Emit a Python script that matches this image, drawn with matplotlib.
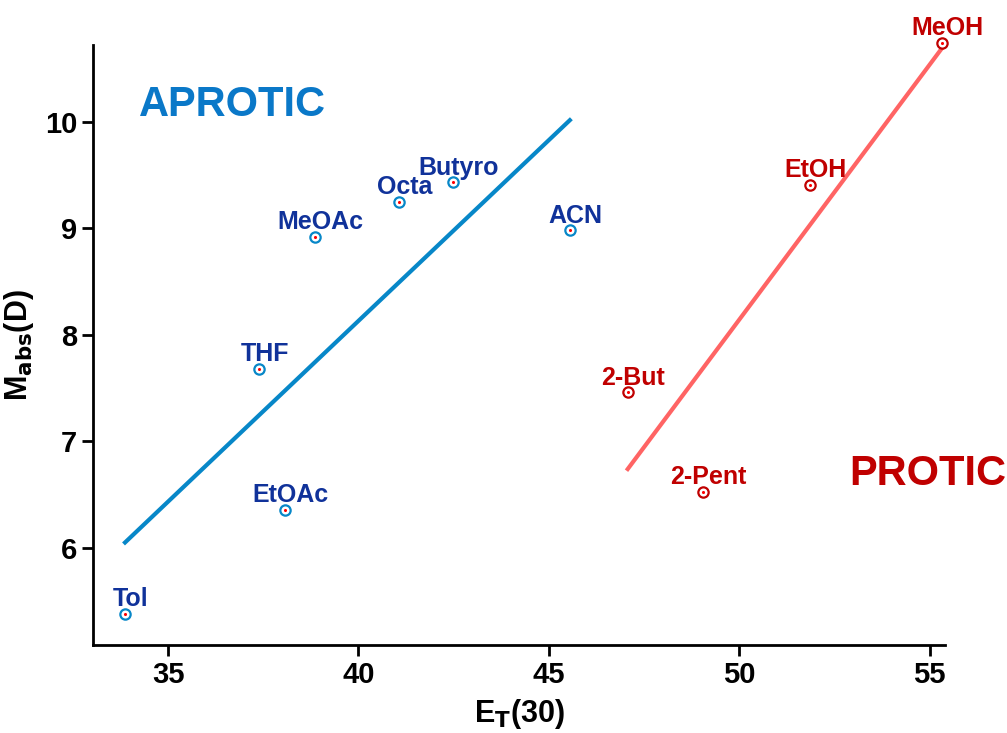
import numpy as np
import matplotlib
matplotlib.use("Agg")
import matplotlib.pyplot as plt

plt.rcParams["font.family"] = ["Liberation Sans", "DejaVu Sans"]
plt.rcParams["font.weight"] = "bold"

APROTIC_NAMES = ["Tol", "EtOAc", "THF", "MeOAc", "Octa", "Butyro", "ACN"]
APROTIC_ET = [33.87, 38.07, 37.39, 38.86, 41.06, 42.48, 45.55]
APROTIC_M = [5.38, 6.36, 7.68, 8.92, 9.25, 9.43, 8.98]

PROTIC_NAMES = ["2-But", "2-Pent", "EtOH", "MeOH"]
PROTIC_ET = [47.07, 49.04, 51.85, 55.31]
PROTIC_M = [7.46, 6.53, 9.41, 10.74]

APROTIC_LINE = "#0787c8"
APROTIC_TEXT = "#10329a"
PROTIC_LINE = "#ff6464"
PROTIC_TEXT = "#c00000"

fig = plt.figure(figsize=(10.07, 7.33), dpi=100)
ax = fig.add_axes([0.0924, 0.120, 0.846, 0.8186])


def plot_group(ax, xs, ys, names, line_color, marker_color, text_color):
    xs = np.asarray(xs)
    ys = np.asarray(ys)
    slope, icpt = np.polyfit(xs, ys, 1)
    xl = np.array([xs.min(), xs.max()])
    ax.plot(xl, slope * xl + icpt, color=line_color, lw=3, zorder=2, clip_on=False)
    ax.scatter(xs, ys, s=55, facecolors="white", edgecolors=marker_color,
               linewidths=1.6, zorder=3, clip_on=False)
    ax.scatter(xs, ys, s=1.5, color="red", zorder=4, clip_on=False)
    for x, y, n in zip(xs, ys, names):
        ax.annotate(n, (x, y), xytext=(4, 2), textcoords="offset points",
                    ha="center", va="bottom", color=text_color,
                    fontsize=18, fontweight="bold", zorder=5,
                    annotation_clip=False)


plot_group(ax, APROTIC_ET, APROTIC_M, APROTIC_NAMES, APROTIC_LINE, APROTIC_LINE, APROTIC_TEXT)
plot_group(ax, PROTIC_ET, PROTIC_M, PROTIC_NAMES, PROTIC_LINE, PROTIC_TEXT, PROTIC_TEXT)

ax.text(0.054, 0.9, "APROTIC", transform=ax.transAxes, color="#0a78c8",
        fontsize=30, fontweight="bold", va="center", ha="left")
ax.text(0.888, 0.285, "PROTIC", transform=ax.transAxes, color=PROTIC_TEXT,
        fontsize=30, fontweight="bold", va="center", ha="left", clip_on=False)

ax.set_xlim(33.03, 55.4)
ax.set_ylim(5.09, 10.72)
ax.set_xticks([35, 40, 45, 50, 55])
ax.set_yticks([6, 7, 8, 9, 10])
ax.tick_params(labelsize=21, width=2, length=8, direction="out")
for lab in ax.get_xticklabels() + ax.get_yticklabels():
    lab.set_fontweight("bold")
for s in ["top", "right"]:
    ax.spines[s].set_visible(False)
for s in ["left", "bottom"]:
    ax.spines[s].set_linewidth(2)

ax.set_xlabel(r"E$_\mathbf{T}$(30)", fontsize=22, fontweight="bold", labelpad=6)
ax.set_ylabel(r"M$_\mathbf{abs}$(D)", fontsize=22, fontweight="bold", labelpad=6)

fig.savefig("out.png", dpi=100)
